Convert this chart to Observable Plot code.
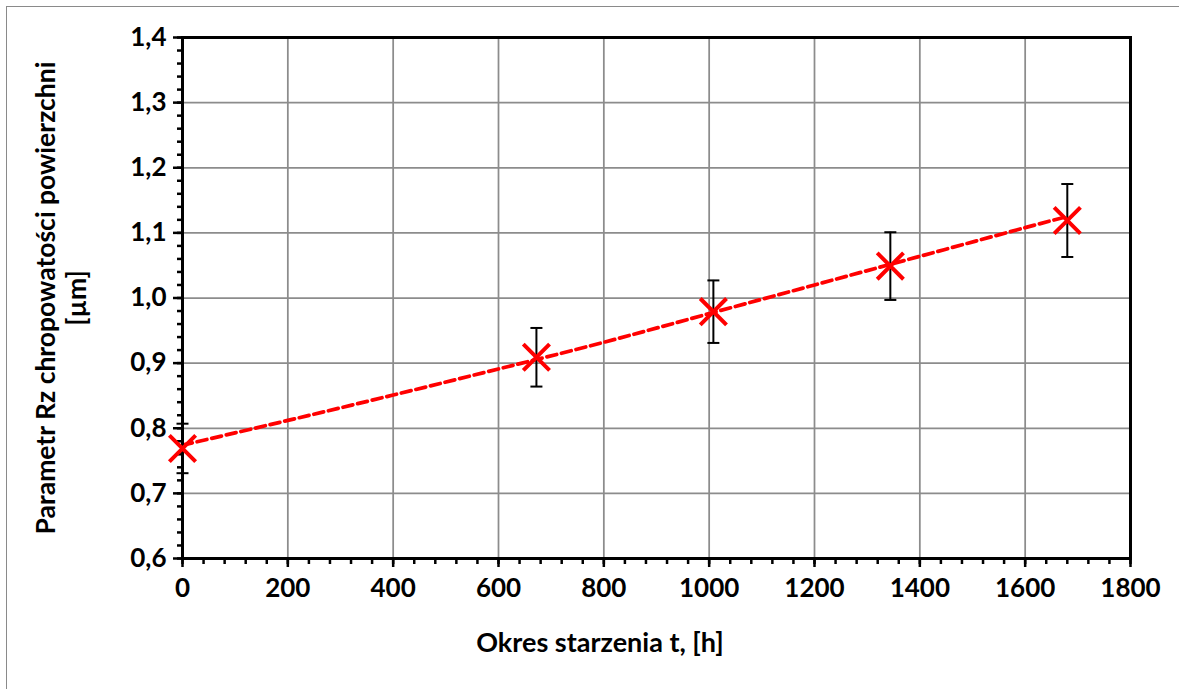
<!DOCTYPE html>
<html>
<head>
<meta charset="utf-8">
<script src="https://cdn.jsdelivr.net/npm/d3@7"></script>
<script src="https://cdn.jsdelivr.net/npm/@observablehq/plot@0.6"></script>
<style>
  html, body { margin: 0; padding: 0; background: #fff; overflow: hidden; }
  #wrap { position: relative; width: 1179px; height: 689px; }
  #border { position: absolute; left: 6px; top: 6px; width: 1300px; height: 800px; border: 1px solid #8a8a8a; box-sizing: border-box; }
  #chart { position: absolute; left: 0; top: 0; }
</style>
</head>
<body>
<div id="wrap"><div id="border"></div><div id="chart"></div></div>
<script>
// Data
const hours = [0, 672, 1008, 1344, 1680];
const rz = [0.769, 0.909, 0.979, 1.049, 1.119];
const rzErr = [0.038, 0.045, 0.048, 0.052, 0.056];

// Trend line (polynomial trend)
const trendHours = [0, 200, 400, 600, 800, 1000, 1200, 1400, 1600, 1680];
const trendRz = [0.774, 0.812, 0.851, 0.891, 0.932, 0.976, 1.020, 1.064, 1.108, 1.125];

// Axis ticks
const xTicks = [0, 200, 400, 600, 800, 1000, 1200, 1400, 1600, 1800];
const yTicks = [0.6, 0.7, 0.8, 0.9, 1.0, 1.1, 1.2, 1.3, 1.4];
const xMinor = d3.range(0, 1801, 40);
const yMinor = d3.range(0, 41).map(i => +(0.6 + i * 0.02).toFixed(2));

const xTitle = "Okres starzenia t, [h]";
const yTitle1 = "Parametr Rz chropowatości powierzchni";
const yTitle2 = "[µm]";

const points = hours.map((h, i) => ({h, v: rz[i], lo: rz[i] - rzErr[i], hi: rz[i] + rzErr[i]}));
const trend = trendHours.map((h, i) => ({h, v: trendRz[i]}));

const fmtY = d => d.toFixed(1).replace(".", ",");
const fmtX = d => String(d);
const capSymbol = {
  draw(ctx, size) {
    const w = Math.sqrt(size / Math.PI);
    ctx.moveTo(-w, 0);
    ctx.lineTo(w, 0);
  }
};

const FONT = "Lato, 'Open Sans', sans-serif";

const chart = Plot.plot({
  width: 1179,
  height: 689,
  marginLeft: 182,
  marginRight: 49,
  marginTop: 37,
  marginBottom: 131,
  style: {fontFamily: FONT, fontWeight: "bold", color: "#000", background: "transparent", overflow: "visible"},
  x: {domain: [0, 1800], axis: null},
  y: {domain: [0.6, 1.4], axis: null},
  marks: [
    Plot.gridX(xTicks.filter(d => d > 0 && d < 1800), {stroke: "#8c8c8c", strokeOpacity: 1, strokeWidth: 1.75}),
    Plot.gridY(yTicks.filter(d => d > 0.6 && d < 1.4), {stroke: "#8c8c8c", strokeOpacity: 1, strokeWidth: 1.75}),
    Plot.axisY(yMinor, {tickSize: 5, tickFormat: () => "", stroke: "#000", strokeWidth: 2.5, label: null}),
    Plot.axisY(yTicks, {tickSize: 9, tickPadding: 7, tickFormat: fmtY, fontSize: 26, fontWeight: "bold", stroke: "#000", strokeWidth: 2.5, label: null}),
    Plot.axisX(xMinor, {tickSize: 6, tickFormat: () => "", stroke: "#000", strokeWidth: 2.5, label: null}),
    Plot.axisX(xTicks, {tickSize: 9, tickPadding: 11, tickFormat: fmtX, fontSize: 26, fontWeight: "bold", stroke: "#000", strokeWidth: 2.5, label: null}),
    Plot.line(trend, {x: "h", y: "v", stroke: "#ff0000", strokeWidth: 3.75, strokeDasharray: "10,5", curve: "natural"}),
    Plot.ruleX(points, {x: "h", y1: "lo", y2: "hi", stroke: "#000", strokeWidth: 2}),
    Plot.dot(points, {x: "h", y: "lo", symbol: capSymbol, r: 6, stroke: "#000", strokeWidth: 2, fill: "none"}),
    Plot.dot(points, {x: "h", y: "hi", symbol: capSymbol, r: 6, stroke: "#000", strokeWidth: 2, fill: "none"}),
    Plot.frame({stroke: "#000", strokeWidth: 3}),
    Plot.dot(points, {x: "h", y: "v", symbol: "times", r: 12, stroke: "#ff0000", strokeWidth: 4})
  ]
});

const svg = d3.select(chart);
svg.append("text")
  .attr("x", 600).attr("y", 641)
  .attr("text-anchor", "middle").attr("dominant-baseline", "central")
  .style("font-family", FONT).style("font-weight", "bold").style("font-size", "27px")
  .attr("fill", "#000")
  .text(xTitle);

const yt = svg.append("text")
  .attr("transform", "translate(46,298) rotate(-90)")
  .attr("text-anchor", "middle")
  .style("font-family", FONT).style("font-weight", "bold").style("font-size", "26.5px")
  .attr("fill", "#000");
yt.append("tspan").attr("x", 0).attr("dy", "0.35em").text(yTitle1);
yt.append("tspan").attr("x", 0).attr("dy", "1.15em").text(yTitle2);

document.getElementById("chart").appendChild(chart);
</script>
</body>
</html>
